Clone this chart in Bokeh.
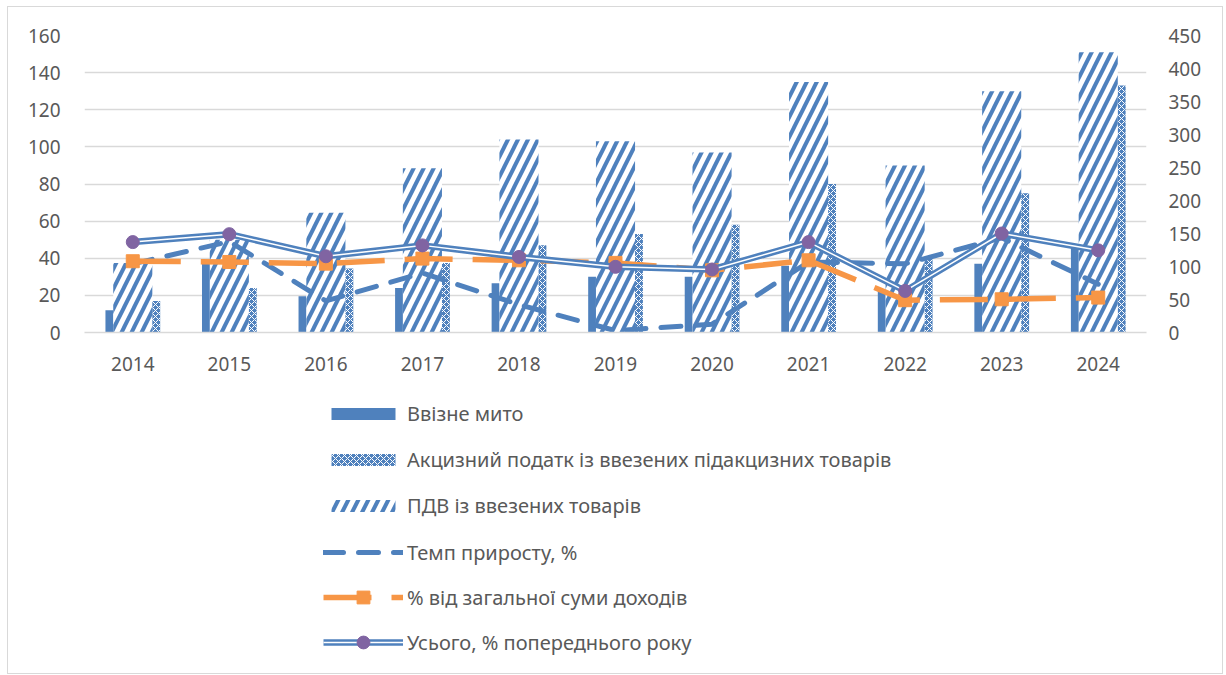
from bokeh.plotting import figure
from bokeh.layouts import column
from bokeh.models import (Range1d, LinearAxis, Legend, LegendItem, FixedTicker,
                          FactorRange, ColumnDataSource)
from bokeh.transform import dodge
from bokeh.embed import file_html
from bokeh.resources import INLINE

# ---------------- data ----------------
years = ["2014", "2015", "2016", "2017", "2018", "2019", "2020", "2021", "2022", "2023", "2024"]
import_duty = [12, 38, 19.5, 24, 26.5, 30, 30, 36, 23, 37, 47]          # Ввізне мито
excise = [17, 24, 34.5, 37.5, 47, 53, 58, 80, 40, 75, 133]             # Акцизний податок
vat = [37.5, 50, 64.5, 88.5, 104, 103, 97, 135, 90, 130, 151]          # ПДВ
growth = [37, 49, 17, 32, 15, 1, 4.5, 38, 37, 51, 26]                  # Темп приросту, %
share = [38.4, 38, 37.1, 39.8, 38.9, 37.5, 33.5, 38.9, 17.4, 17.9, 18.8]  # % від загальної суми доходів
total_prev = [137, 149, 115.5, 132, 114.5, 99.5, 95.5, 137, 63, 150, 124.5]  # Усього, % попереднього року

labels = ["Ввізне мито",
          "Акцизний податк із ввезених підакцизних товарів",
          "ПДВ із ввезених товарів",
          "Темп приросту, %",
          "% від загальної суми доходів",
          "Усього, % попереднього року"]

BLUE = "#4F81BD"
ORANGE = "#F79646"
PURPLE = "#8064A2"
GRID = "#D9D9D9"
TXT = "#595959"
FONT = "Noto Sans"

src = ColumnDataSource(dict(year=years, duty=import_duty, excise=excise, vat=vat,
                            growth=growth, share=share, total=total_prev))


def draw(fig, right_name):
    r = {}
    r["duty"] = fig.vbar(x=dodge("year", -0.2415, range=fig.x_range), top="duty", width=0.083,
                         bottom=0, source=src, fill_color=BLUE, line_color=None)
    r["exc"] = fig.vbar(x=dodge("year", 0.2415, range=fig.x_range), top="excise", width=0.085,
                        bottom=0, source=src, fill_color=BLUE, line_color=None,
                        hatch_pattern="diagonal_cross", hatch_color="white",
                        hatch_scale=6, hatch_weight=1)
    r["vat"] = fig.vbar(x=dodge("year", 0.0, range=fig.x_range), top="vat", width=0.405,
                        bottom=0, source=src, fill_color="white", line_color=None,
                        hatch_pattern="right_diagonal_line", hatch_color=BLUE,
                        hatch_scale=20, hatch_weight=4)
    r["growth"] = fig.line(x="year", y="growth", source=src, line_color=BLUE, line_width=5,
                           line_dash="20 15", line_cap="round")
    r["share"] = fig.line(x="year", y="share", source=src, line_color=ORANGE, line_width=5.5,
                          line_dash="48 20")
    r["share_m"] = fig.scatter(x="year", y="share", source=src, marker="square", size=13,
                               fill_color=ORANGE, line_color=ORANGE)
    r["tot1"] = fig.line(x="year", y="total", source=src, y_range_name=right_name,
                         line_color=BLUE, line_width=6.5)
    r["tot2"] = fig.line(x="year", y="total", source=src, y_range_name=right_name,
                         line_color="white", line_width=1.5)
    r["tot_m"] = fig.scatter(x="year", y="total", source=src, y_range_name=right_name,
                             marker="circle", size=13, fill_color=PURPLE, line_color=PURPLE)
    return r


W = 1214
H_TOP = 380
H_LEG = 286

# ---------------- main chart ----------------
p = figure(x_range=FactorRange(*years), y_range=Range1d(0, 160),
           width=W, height=H_TOP, output_backend="svg", toolbar_location=None,
           min_border_left=76, min_border_right=76, min_border_top=28, min_border_bottom=55)
p.outline_line_color = None
p.background_fill_color = "white"
p.border_fill_color = "white"
p.x_range.range_padding = 0
p.extra_y_ranges = {"right": Range1d(0, 450)}

draw(p, "right")

p.yaxis.ticker = FixedTicker(ticks=list(range(0, 161, 20)))
p.yaxis.axis_line_color = None
p.yaxis.major_tick_line_color = None
p.yaxis.minor_tick_line_color = None
p.yaxis.major_label_standoff = 18

right = LinearAxis(y_range_name="right", ticker=FixedTicker(ticks=list(range(0, 451, 50))))
right.axis_line_color = None
right.major_tick_line_color = None
right.minor_tick_line_color = None
right.major_label_standoff = 16
p.add_layout(right, "right")

p.xaxis.axis_line_color = GRID
p.xaxis.axis_line_width = 1.5
p.xaxis.major_tick_line_color = None
p.xaxis.minor_tick_line_color = None
p.xaxis.major_label_standoff = 18

for ax in [p.xaxis[0], p.yaxis[0], right]:
    ax.major_label_text_font = FONT
    ax.major_label_text_font_size = "19px"
    ax.major_label_text_color = TXT

p.xgrid.grid_line_color = None
p.ygrid.grid_line_color = GRID
p.ygrid.grid_line_width = 1.5

# ---------------- legend panel ----------------
lf = figure(x_range=FactorRange(*years), y_range=Range1d(1000, 1100),
            width=W, height=H_LEG, output_backend="svg", toolbar_location=None,
            x_axis_location=None, y_axis_location=None,
            min_border_left=0, min_border_right=0, min_border_top=0, min_border_bottom=0)
lf.outline_line_color = None
lf.grid.grid_line_color = None
lf.background_fill_color = "white"
lf.border_fill_color = "white"
lf.extra_y_ranges = {"r2": Range1d(1000, 1100)}
rl = draw(lf, "r2")


def style_legend(lg, gh, sp):
    lg.orientation = "vertical"
    lg.glyph_width = 80
    lg.glyph_height = gh
    lg.label_height = 20
    lg.spacing = sp
    lg.padding = 0
    lg.margin = 0
    lg.label_standoff = 4
    lg.border_line_color = None
    lg.background_fill_alpha = 0
    lg.label_text_font = FONT
    lg.label_text_font_size = "20px"
    lg.label_text_color = TXT


leg_bars = Legend(items=[
    LegendItem(label=labels[0], renderers=[rl["duty"]]),
    LegendItem(label=labels[1], renderers=[rl["exc"]]),
    LegendItem(label=labels[2], renderers=[rl["vat"]]),
], location=(239, 154))
style_legend(leg_bars, 15, 19)

leg_lines = Legend(items=[
    LegendItem(label=labels[3], renderers=[rl["growth"]]),
    LegendItem(label=labels[4], renderers=[rl["share"], rl["share_m"]]),
    LegendItem(label=labels[5], renderers=[rl["tot1"], rl["tot2"], rl["tot_m"]]),
], location=(239, 15))
style_legend(leg_lines, 32, 13)

lf.add_layout(leg_bars, "center")
lf.add_layout(leg_lines, "center")

layout = column(p, lf, spacing=0)
layout.styles = {"margin-left": "7px", "margin-top": "6px", "border": "1px solid #D9D9D9"}

open("out.html", "w").write(file_html(layout, INLINE))
